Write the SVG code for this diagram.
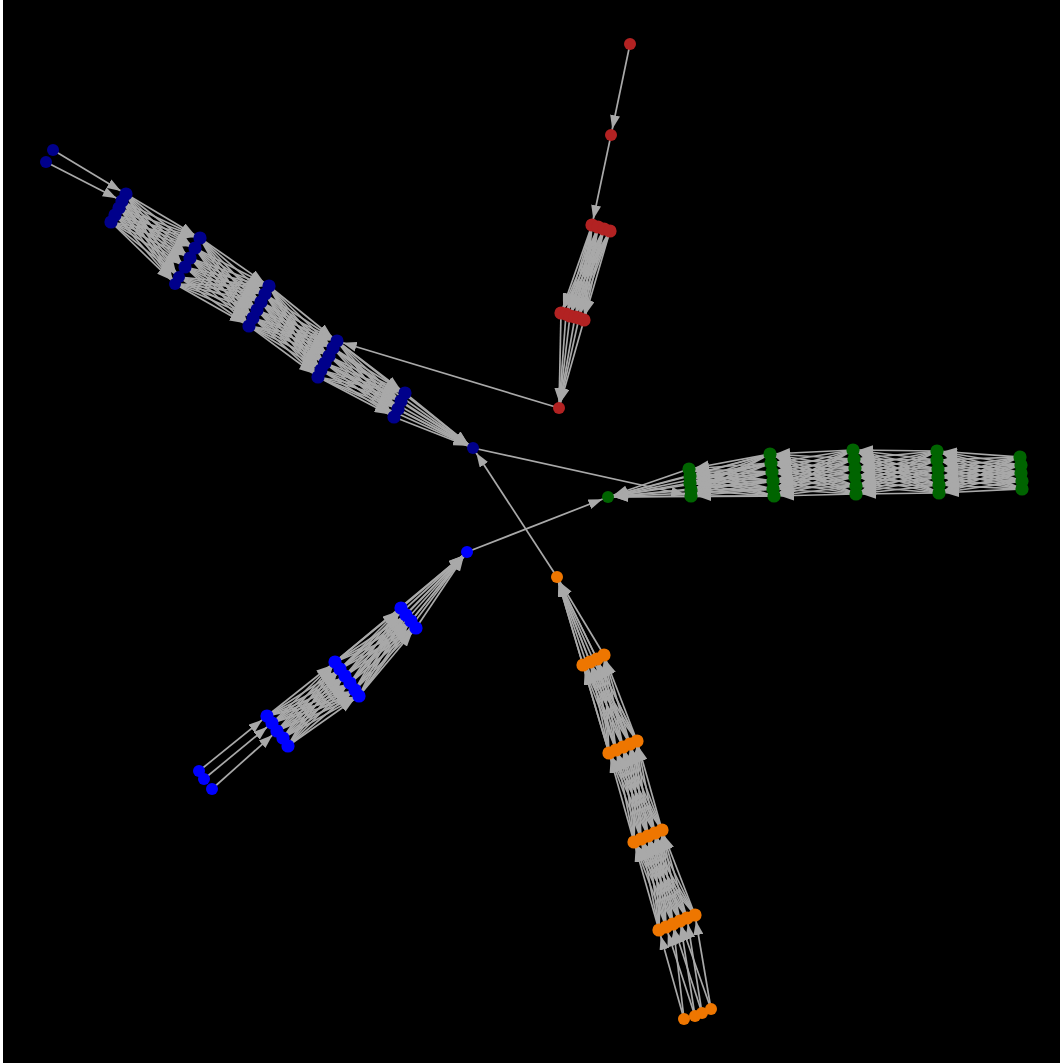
<svg xmlns="http://www.w3.org/2000/svg" width="1060" height="1063" viewBox="0 0 1060 1063">
<style>
#edges path{fill:none;stroke:#a9a9a9;stroke-width:1.7;marker-end:url(#ah)}
.r{fill:#b22222}.n{fill:#00008b}.g{fill:#006400}.b{fill:#0000ff}.o{fill:#ee7600}
.c circle{r:6.6px}
</style>
<defs>
<marker id="ah" markerUnits="userSpaceOnUse" markerWidth="14" markerHeight="10" viewBox="0 0 14 10" refX="20" refY="5" orient="auto"><path d="M0 0L14 5 0 10z" fill="#a9a9a9"/></marker>
</defs>
<rect x="0" y="0" width="1060" height="1063" fill="#ffffff"/>
<rect x="3" y="0" width="1057" height="1063" fill="#000000"/>
<g id="edges">
<path d="M630 44 611 135"/>
<path d="M611 135 592 225"/>
<path d="M592 225 561 313"/><path d="M592 225 566 314"/><path d="M592 225 570 316"/><path d="M592 225 575 317"/><path d="M592 225 579 318"/><path d="M592 225 584 320"/>
<path d="M598 227 561 313"/><path d="M598 227 566 314"/><path d="M598 227 570 316"/><path d="M598 227 575 317"/><path d="M598 227 579 318"/><path d="M598 227 584 320"/>
<path d="M604 229 561 313"/><path d="M604 229 566 314"/><path d="M604 229 570 316"/><path d="M604 229 575 317"/><path d="M604 229 579 318"/><path d="M604 229 584 320"/>
<path d="M610 231 561 313"/><path d="M610 231 566 314"/><path d="M610 231 570 316"/><path d="M610 231 575 317"/><path d="M610 231 579 318"/><path d="M610 231 584 320"/>
<path d="M561 313 559 408"/><path d="M566 314 559 408"/><path d="M570 316 559 408"/><path d="M575 317 559 408"/><path d="M579 318 559 408"/><path d="M584 320 559 408"/>
<path d="M53 150 126 194"/>
<path d="M46 162 122 201"/>
<path d="M126 194 200 238"/><path d="M126 194 195 248"/><path d="M126 194 190 258"/><path d="M126 194 185 267"/><path d="M126 194 179 277"/><path d="M126 194 175 284"/>
<path d="M122 201 200 238"/><path d="M122 201 195 248"/><path d="M122 201 190 258"/><path d="M122 201 185 267"/><path d="M122 201 179 277"/><path d="M122 201 175 284"/>
<path d="M119 208 200 238"/><path d="M119 208 195 248"/><path d="M119 208 190 258"/><path d="M119 208 185 267"/><path d="M119 208 179 277"/><path d="M119 208 175 284"/>
<path d="M115 215 200 238"/><path d="M115 215 195 248"/><path d="M115 215 190 258"/><path d="M115 215 185 267"/><path d="M115 215 179 277"/><path d="M115 215 175 284"/>
<path d="M111 222 200 238"/><path d="M111 222 195 248"/><path d="M111 222 190 258"/><path d="M111 222 185 267"/><path d="M111 222 179 277"/><path d="M111 222 175 284"/>
<path d="M200 238 269 286"/><path d="M200 238 265 294"/><path d="M200 238 261 302"/><path d="M200 238 257 310"/><path d="M200 238 253 318"/><path d="M200 238 249 326"/>
<path d="M195 248 269 286"/><path d="M195 248 265 294"/><path d="M195 248 261 302"/><path d="M195 248 257 310"/><path d="M195 248 253 318"/><path d="M195 248 249 326"/>
<path d="M190 258 269 286"/><path d="M190 258 265 294"/><path d="M190 258 261 302"/><path d="M190 258 257 310"/><path d="M190 258 253 318"/><path d="M190 258 249 326"/>
<path d="M185 267 269 286"/><path d="M185 267 265 294"/><path d="M185 267 261 302"/><path d="M185 267 257 310"/><path d="M185 267 253 318"/><path d="M185 267 249 326"/>
<path d="M179 277 269 286"/><path d="M179 277 265 294"/><path d="M179 277 261 302"/><path d="M179 277 257 310"/><path d="M179 277 253 318"/><path d="M179 277 249 326"/>
<path d="M175 284 269 286"/><path d="M175 284 265 294"/><path d="M175 284 261 302"/><path d="M175 284 257 310"/><path d="M175 284 253 318"/><path d="M175 284 249 326"/>
<path d="M269 286 337 341"/><path d="M269 286 333 348"/><path d="M269 286 329 356"/><path d="M269 286 325 363"/><path d="M269 286 321 370"/><path d="M269 286 318 377"/>
<path d="M265 294 337 341"/><path d="M265 294 333 348"/><path d="M265 294 329 356"/><path d="M265 294 325 363"/><path d="M265 294 321 370"/><path d="M265 294 318 377"/>
<path d="M261 302 337 341"/><path d="M261 302 333 348"/><path d="M261 302 329 356"/><path d="M261 302 325 363"/><path d="M261 302 321 370"/><path d="M261 302 318 377"/>
<path d="M257 310 337 341"/><path d="M257 310 333 348"/><path d="M257 310 329 356"/><path d="M257 310 325 363"/><path d="M257 310 321 370"/><path d="M257 310 318 377"/>
<path d="M253 318 337 341"/><path d="M253 318 333 348"/><path d="M253 318 329 356"/><path d="M253 318 325 363"/><path d="M253 318 321 370"/><path d="M253 318 318 377"/>
<path d="M249 326 337 341"/><path d="M249 326 333 348"/><path d="M249 326 329 356"/><path d="M249 326 325 363"/><path d="M249 326 321 370"/><path d="M249 326 318 377"/>
<path d="M337 341 405 393"/><path d="M337 341 401 401"/><path d="M337 341 398 409"/><path d="M337 341 394 417"/>
<path d="M333 348 405 393"/><path d="M333 348 401 401"/><path d="M333 348 398 409"/><path d="M333 348 394 417"/>
<path d="M329 356 405 393"/><path d="M329 356 401 401"/><path d="M329 356 398 409"/><path d="M329 356 394 417"/>
<path d="M325 363 405 393"/><path d="M325 363 401 401"/><path d="M325 363 398 409"/><path d="M325 363 394 417"/>
<path d="M321 370 405 393"/><path d="M321 370 401 401"/><path d="M321 370 398 409"/><path d="M321 370 394 417"/>
<path d="M318 377 405 393"/><path d="M318 377 401 401"/><path d="M318 377 398 409"/><path d="M318 377 394 417"/>
<path d="M405 393 473 448"/><path d="M401 401 473 448"/><path d="M398 409 473 448"/><path d="M394 417 473 448"/>
<path d="M337 341 473 448"/><path d="M333 348 473 448"/><path d="M329 356 473 448"/><path d="M325 363 473 448"/><path d="M321 370 473 448"/><path d="M318 377 473 448"/>
<path d="M1020 457 937 451"/><path d="M1020 457 937 460"/><path d="M1020 457 938 469"/><path d="M1020 457 938 477"/><path d="M1020 457 939 485"/><path d="M1020 457 939 493"/>
<path d="M1021 465 937 451"/><path d="M1021 465 937 460"/><path d="M1021 465 938 469"/><path d="M1021 465 938 477"/><path d="M1021 465 939 485"/><path d="M1021 465 939 493"/>
<path d="M1021 473 937 451"/><path d="M1021 473 937 460"/><path d="M1021 473 938 469"/><path d="M1021 473 938 477"/><path d="M1021 473 939 485"/><path d="M1021 473 939 493"/>
<path d="M1022 481 937 451"/><path d="M1022 481 937 460"/><path d="M1022 481 938 469"/><path d="M1022 481 938 477"/><path d="M1022 481 939 485"/><path d="M1022 481 939 493"/>
<path d="M1022 489 937 451"/><path d="M1022 489 937 460"/><path d="M1022 489 938 469"/><path d="M1022 489 938 477"/><path d="M1022 489 939 485"/><path d="M1022 489 939 493"/>
<path d="M937 451 853 450"/><path d="M937 451 854 459"/><path d="M937 451 855 468"/><path d="M937 451 855 477"/><path d="M937 451 856 486"/><path d="M937 451 856 494"/>
<path d="M937 460 853 450"/><path d="M937 460 854 459"/><path d="M937 460 855 468"/><path d="M937 460 855 477"/><path d="M937 460 856 486"/><path d="M937 460 856 494"/>
<path d="M938 469 853 450"/><path d="M938 469 854 459"/><path d="M938 469 855 468"/><path d="M938 469 855 477"/><path d="M938 469 856 486"/><path d="M938 469 856 494"/>
<path d="M938 477 853 450"/><path d="M938 477 854 459"/><path d="M938 477 855 468"/><path d="M938 477 855 477"/><path d="M938 477 856 486"/><path d="M938 477 856 494"/>
<path d="M939 485 853 450"/><path d="M939 485 854 459"/><path d="M939 485 855 468"/><path d="M939 485 855 477"/><path d="M939 485 856 486"/><path d="M939 485 856 494"/>
<path d="M939 493 853 450"/><path d="M939 493 854 459"/><path d="M939 493 855 468"/><path d="M939 493 855 477"/><path d="M939 493 856 486"/><path d="M939 493 856 494"/>
<path d="M853 450 770 454"/><path d="M853 450 771 463"/><path d="M853 450 772 472"/><path d="M853 450 773 481"/><path d="M853 450 773 489"/><path d="M853 450 774 496"/>
<path d="M854 459 770 454"/><path d="M854 459 771 463"/><path d="M854 459 772 472"/><path d="M854 459 773 481"/><path d="M854 459 773 489"/><path d="M854 459 774 496"/>
<path d="M855 468 770 454"/><path d="M855 468 771 463"/><path d="M855 468 772 472"/><path d="M855 468 773 481"/><path d="M855 468 773 489"/><path d="M855 468 774 496"/>
<path d="M855 477 770 454"/><path d="M855 477 771 463"/><path d="M855 477 772 472"/><path d="M855 477 773 481"/><path d="M855 477 773 489"/><path d="M855 477 774 496"/>
<path d="M856 486 770 454"/><path d="M856 486 771 463"/><path d="M856 486 772 472"/><path d="M856 486 773 481"/><path d="M856 486 773 489"/><path d="M856 486 774 496"/>
<path d="M856 494 770 454"/><path d="M856 494 771 463"/><path d="M856 494 772 472"/><path d="M856 494 773 481"/><path d="M856 494 773 489"/><path d="M856 494 774 496"/>
<path d="M770 454 689 469"/><path d="M770 454 690 476"/><path d="M770 454 690 483"/><path d="M770 454 691 490"/><path d="M770 454 691 496"/>
<path d="M771 463 689 469"/><path d="M771 463 690 476"/><path d="M771 463 690 483"/><path d="M771 463 691 490"/><path d="M771 463 691 496"/>
<path d="M772 472 689 469"/><path d="M772 472 690 476"/><path d="M772 472 690 483"/><path d="M772 472 691 490"/><path d="M772 472 691 496"/>
<path d="M773 481 689 469"/><path d="M773 481 690 476"/><path d="M773 481 690 483"/><path d="M773 481 691 490"/><path d="M773 481 691 496"/>
<path d="M773 489 689 469"/><path d="M773 489 690 476"/><path d="M773 489 690 483"/><path d="M773 489 691 490"/><path d="M773 489 691 496"/>
<path d="M774 496 689 469"/><path d="M774 496 690 476"/><path d="M774 496 690 483"/><path d="M774 496 691 490"/><path d="M774 496 691 496"/>
<path d="M689 469 608 497"/><path d="M690 476 608 497"/><path d="M690 483 608 497"/><path d="M691 490 608 497"/><path d="M691 496 608 497"/>
<path d="M770 454 608 497"/><path d="M771 463 608 497"/><path d="M772 472 608 497"/><path d="M773 481 608 497"/><path d="M773 489 608 497"/><path d="M774 496 608 497"/>
<path d="M199 771 267 716"/><path d="M204 779 272 723"/><path d="M212 789 277 731"/>
<path d="M267 716 335 662"/><path d="M267 716 340 669"/><path d="M267 716 345 676"/><path d="M267 716 350 683"/><path d="M267 716 355 690"/><path d="M267 716 359 696"/>
<path d="M272 723 335 662"/><path d="M272 723 340 669"/><path d="M272 723 345 676"/><path d="M272 723 350 683"/><path d="M272 723 355 690"/><path d="M272 723 359 696"/>
<path d="M277 731 335 662"/><path d="M277 731 340 669"/><path d="M277 731 345 676"/><path d="M277 731 350 683"/><path d="M277 731 355 690"/><path d="M277 731 359 696"/>
<path d="M283 738 335 662"/><path d="M283 738 340 669"/><path d="M283 738 345 676"/><path d="M283 738 350 683"/><path d="M283 738 355 690"/><path d="M283 738 359 696"/>
<path d="M288 746 335 662"/><path d="M288 746 340 669"/><path d="M288 746 345 676"/><path d="M288 746 350 683"/><path d="M288 746 355 690"/><path d="M288 746 359 696"/>
<path d="M335 662 401 608"/><path d="M335 662 406 615"/><path d="M335 662 411 621"/><path d="M335 662 416 628"/>
<path d="M340 669 401 608"/><path d="M340 669 406 615"/><path d="M340 669 411 621"/><path d="M340 669 416 628"/>
<path d="M345 676 401 608"/><path d="M345 676 406 615"/><path d="M345 676 411 621"/><path d="M345 676 416 628"/>
<path d="M350 683 401 608"/><path d="M350 683 406 615"/><path d="M350 683 411 621"/><path d="M350 683 416 628"/>
<path d="M355 690 401 608"/><path d="M355 690 406 615"/><path d="M355 690 411 621"/><path d="M355 690 416 628"/>
<path d="M359 696 401 608"/><path d="M359 696 406 615"/><path d="M359 696 411 621"/><path d="M359 696 416 628"/>
<path d="M401 608 467 552"/><path d="M406 615 467 552"/><path d="M411 621 467 552"/><path d="M416 628 467 552"/>
<path d="M335 662 467 552"/><path d="M340 669 467 552"/><path d="M345 676 467 552"/><path d="M350 683 467 552"/><path d="M355 690 467 552"/><path d="M359 696 467 552"/>
<path d="M684 1019 659 930"/><path d="M684 1019 673 924"/><path d="M695 1016 666 927"/><path d="M695 1016 680 921"/>
<path d="M702 1013 673 924"/><path d="M702 1013 687 918"/><path d="M711 1009 680 921"/><path d="M711 1009 695 915"/>
<path d="M659 930 634 842"/><path d="M659 930 641 839"/><path d="M659 930 648 836"/><path d="M659 930 655 833"/><path d="M659 930 662 830"/>
<path d="M666 927 634 842"/><path d="M666 927 641 839"/><path d="M666 927 648 836"/><path d="M666 927 655 833"/><path d="M666 927 662 830"/>
<path d="M673 924 634 842"/><path d="M673 924 641 839"/><path d="M673 924 648 836"/><path d="M673 924 655 833"/><path d="M673 924 662 830"/>
<path d="M680 921 634 842"/><path d="M680 921 641 839"/><path d="M680 921 648 836"/><path d="M680 921 655 833"/><path d="M680 921 662 830"/>
<path d="M687 918 634 842"/><path d="M687 918 641 839"/><path d="M687 918 648 836"/><path d="M687 918 655 833"/><path d="M687 918 662 830"/>
<path d="M695 915 634 842"/><path d="M695 915 641 839"/><path d="M695 915 648 836"/><path d="M695 915 655 833"/><path d="M695 915 662 830"/>
<path d="M634 842 609 753"/><path d="M634 842 616 750"/><path d="M634 842 623 747"/><path d="M634 842 630 744"/><path d="M634 842 637 741"/>
<path d="M641 839 609 753"/><path d="M641 839 616 750"/><path d="M641 839 623 747"/><path d="M641 839 630 744"/><path d="M641 839 637 741"/>
<path d="M648 836 609 753"/><path d="M648 836 616 750"/><path d="M648 836 623 747"/><path d="M648 836 630 744"/><path d="M648 836 637 741"/>
<path d="M655 833 609 753"/><path d="M655 833 616 750"/><path d="M655 833 623 747"/><path d="M655 833 630 744"/><path d="M655 833 637 741"/>
<path d="M662 830 609 753"/><path d="M662 830 616 750"/><path d="M662 830 623 747"/><path d="M662 830 630 744"/><path d="M662 830 637 741"/>
<path d="M609 753 583 665"/><path d="M609 753 590 662"/><path d="M609 753 597 659"/><path d="M609 753 604 655"/>
<path d="M616 750 583 665"/><path d="M616 750 590 662"/><path d="M616 750 597 659"/><path d="M616 750 604 655"/>
<path d="M623 747 583 665"/><path d="M623 747 590 662"/><path d="M623 747 597 659"/><path d="M623 747 604 655"/>
<path d="M630 744 583 665"/><path d="M630 744 590 662"/><path d="M630 744 597 659"/><path d="M630 744 604 655"/>
<path d="M637 741 583 665"/><path d="M637 741 590 662"/><path d="M637 741 597 659"/><path d="M637 741 604 655"/>
<path d="M583 665 557 577"/><path d="M590 662 557 577"/><path d="M597 659 557 577"/><path d="M604 655 557 577"/>
<path d="M609 753 557 577"/><path d="M616 750 557 577"/><path d="M623 747 557 577"/><path d="M630 744 557 577"/><path d="M637 741 557 577"/>
<path d="M557 577 473 448"/>
<path d="M473 448 691 496"/>
<path d="M467 552 608 497"/>
<path d="M559 408 337 341"/>
</g>
<g id="red-0" class="r"><circle cx="630" cy="44" r="6"/></g>
<g id="red-1" class="r"><circle cx="611" cy="135" r="6"/></g>
<g id="red-2a" class="r c"><circle cx="592" cy="225" r="6"/></g>
<g id="red-2b" class="r c"><circle cx="598" cy="227" r="6"/></g>
<g id="red-2c" class="r c"><circle cx="604" cy="229" r="6"/></g>
<g id="red-2d" class="r c"><circle cx="610" cy="231" r="6"/></g>
<g id="red-3a" class="r c"><circle cx="561" cy="313" r="6"/></g>
<g id="red-3b" class="r c"><circle cx="566" cy="314" r="6"/></g>
<g id="red-3c" class="r c"><circle cx="570" cy="316" r="6"/></g>
<g id="red-3d" class="r c"><circle cx="575" cy="317" r="6"/></g>
<g id="red-3e" class="r c"><circle cx="579" cy="318" r="6"/></g>
<g id="red-3f" class="r c"><circle cx="584" cy="320" r="6"/></g>
<g id="red-hub" class="r"><circle cx="559" cy="408" r="6"/></g>
<g id="navy-0a" class="n"><circle cx="53" cy="150" r="6"/></g>
<g id="navy-0b" class="n"><circle cx="46" cy="162" r="6"/></g>
<g id="navy-1a" class="n c"><circle cx="126" cy="194" r="6"/></g>
<g id="navy-1b" class="n c"><circle cx="122" cy="201" r="6"/></g>
<g id="navy-1c" class="n c"><circle cx="119" cy="208" r="6"/></g>
<g id="navy-1d" class="n c"><circle cx="115" cy="215" r="6"/></g>
<g id="navy-1e" class="n c"><circle cx="111" cy="222" r="6"/></g>
<g id="navy-2a" class="n c"><circle cx="200" cy="238" r="6"/></g>
<g id="navy-2b" class="n c"><circle cx="195" cy="248" r="6"/></g>
<g id="navy-2c" class="n c"><circle cx="190" cy="258" r="6"/></g>
<g id="navy-2d" class="n c"><circle cx="185" cy="267" r="6"/></g>
<g id="navy-2e" class="n"><circle cx="179" cy="277" r="6"/></g>
<g id="navy-2f" class="n"><circle cx="175" cy="284" r="6"/></g>
<g id="navy-3a" class="n c"><circle cx="269" cy="286" r="6"/></g>
<g id="navy-3b" class="n c"><circle cx="265" cy="294" r="6"/></g>
<g id="navy-3c" class="n c"><circle cx="261" cy="302" r="6"/></g>
<g id="navy-3d" class="n c"><circle cx="257" cy="310" r="6"/></g>
<g id="navy-3e" class="n c"><circle cx="253" cy="318" r="6"/></g>
<g id="navy-3f" class="n c"><circle cx="249" cy="326" r="6"/></g>
<g id="navy-4a" class="n c"><circle cx="337" cy="341" r="6"/></g>
<g id="navy-4b" class="n c"><circle cx="333" cy="348" r="6"/></g>
<g id="navy-4c" class="n c"><circle cx="329" cy="356" r="6"/></g>
<g id="navy-4d" class="n c"><circle cx="325" cy="363" r="6"/></g>
<g id="navy-4e" class="n c"><circle cx="321" cy="370" r="6"/></g>
<g id="navy-4f" class="n c"><circle cx="318" cy="377" r="6"/></g>
<g id="navy-5a" class="n c"><circle cx="405" cy="393" r="6"/></g>
<g id="navy-5b" class="n c"><circle cx="401" cy="401" r="6"/></g>
<g id="navy-5c" class="n c"><circle cx="398" cy="409" r="6"/></g>
<g id="navy-5d" class="n c"><circle cx="394" cy="417" r="6"/></g>
<g id="navy-hub" class="n"><circle cx="473" cy="448" r="6"/></g>
<g id="green-1a" class="g c"><circle cx="689" cy="469" r="6"/></g>
<g id="green-1b" class="g c"><circle cx="690" cy="476" r="6"/></g>
<g id="green-1c" class="g c"><circle cx="690" cy="483" r="6"/></g>
<g id="green-1d" class="g c"><circle cx="691" cy="490" r="6"/></g>
<g id="green-1e" class="g c"><circle cx="691" cy="496" r="6"/></g>
<g id="green-2a" class="g c"><circle cx="770" cy="454" r="6"/></g>
<g id="green-2b" class="g c"><circle cx="771" cy="463" r="6"/></g>
<g id="green-2c" class="g c"><circle cx="772" cy="472" r="6"/></g>
<g id="green-2d" class="g c"><circle cx="773" cy="481" r="6"/></g>
<g id="green-2e" class="g c"><circle cx="773" cy="489" r="6"/></g>
<g id="green-2f" class="g c"><circle cx="774" cy="496" r="6"/></g>
<g id="green-3a" class="g c"><circle cx="853" cy="450" r="6"/></g>
<g id="green-3b" class="g c"><circle cx="854" cy="459" r="6"/></g>
<g id="green-3c" class="g c"><circle cx="855" cy="468" r="6"/></g>
<g id="green-3d" class="g c"><circle cx="855" cy="477" r="6"/></g>
<g id="green-3e" class="g c"><circle cx="856" cy="486" r="6"/></g>
<g id="green-3f" class="g c"><circle cx="856" cy="494" r="6"/></g>
<g id="green-4a" class="g c"><circle cx="937" cy="451" r="6"/></g>
<g id="green-4b" class="g c"><circle cx="937" cy="460" r="6"/></g>
<g id="green-4c" class="g c"><circle cx="938" cy="469" r="6"/></g>
<g id="green-4d" class="g c"><circle cx="938" cy="477" r="6"/></g>
<g id="green-4e" class="g c"><circle cx="939" cy="485" r="6"/></g>
<g id="green-4f" class="g c"><circle cx="939" cy="493" r="6"/></g>
<g id="green-5a" class="g c"><circle cx="1020" cy="457" r="6"/></g>
<g id="green-5b" class="g c"><circle cx="1021" cy="465" r="6"/></g>
<g id="green-5c" class="g c"><circle cx="1021" cy="473" r="6"/></g>
<g id="green-5d" class="g c"><circle cx="1022" cy="481" r="6"/></g>
<g id="green-5e" class="g c"><circle cx="1022" cy="489" r="6"/></g>
<g id="green-hub" class="g"><circle cx="608" cy="497" r="6"/></g>
<g id="blue-hub" class="b"><circle cx="467" cy="552" r="6"/></g>
<g id="blue-1a" class="b c"><circle cx="401" cy="608" r="6"/></g>
<g id="blue-1b" class="b c"><circle cx="406" cy="615" r="6"/></g>
<g id="blue-1c" class="b c"><circle cx="411" cy="621" r="6"/></g>
<g id="blue-1d" class="b c"><circle cx="416" cy="628" r="6"/></g>
<g id="blue-2a" class="b c"><circle cx="335" cy="662" r="6"/></g>
<g id="blue-2b" class="b c"><circle cx="340" cy="669" r="6"/></g>
<g id="blue-2c" class="b c"><circle cx="345" cy="676" r="6"/></g>
<g id="blue-2d" class="b c"><circle cx="350" cy="683" r="6"/></g>
<g id="blue-2e" class="b c"><circle cx="355" cy="690" r="6"/></g>
<g id="blue-2f" class="b c"><circle cx="359" cy="696" r="6"/></g>
<g id="blue-3a" class="b c"><circle cx="267" cy="716" r="6"/></g>
<g id="blue-3b" class="b c"><circle cx="272" cy="723" r="6"/></g>
<g id="blue-3c" class="b c"><circle cx="277" cy="731" r="6"/></g>
<g id="blue-3d" class="b c"><circle cx="283" cy="738" r="6"/></g>
<g id="blue-3e" class="b c"><circle cx="288" cy="746" r="6"/></g>
<g id="blue-4a" class="b"><circle cx="199" cy="771" r="6"/></g>
<g id="blue-4b" class="b"><circle cx="204" cy="779" r="6"/></g>
<g id="blue-4c" class="b"><circle cx="212" cy="789" r="6"/></g>
<g id="orange-hub" class="o"><circle cx="557" cy="577" r="6"/></g>
<g id="orange-1a" class="o c"><circle cx="583" cy="665" r="6"/></g>
<g id="orange-1b" class="o c"><circle cx="590" cy="662" r="6"/></g>
<g id="orange-1c" class="o c"><circle cx="597" cy="659" r="6"/></g>
<g id="orange-1d" class="o c"><circle cx="604" cy="655" r="6"/></g>
<g id="orange-2a" class="o c"><circle cx="609" cy="753" r="6"/></g>
<g id="orange-2b" class="o c"><circle cx="616" cy="750" r="6"/></g>
<g id="orange-2c" class="o c"><circle cx="623" cy="747" r="6"/></g>
<g id="orange-2d" class="o c"><circle cx="630" cy="744" r="6"/></g>
<g id="orange-2e" class="o c"><circle cx="637" cy="741" r="6"/></g>
<g id="orange-3a" class="o c"><circle cx="634" cy="842" r="6"/></g>
<g id="orange-3b" class="o c"><circle cx="641" cy="839" r="6"/></g>
<g id="orange-3c" class="o c"><circle cx="648" cy="836" r="6"/></g>
<g id="orange-3d" class="o c"><circle cx="655" cy="833" r="6"/></g>
<g id="orange-3e" class="o c"><circle cx="662" cy="830" r="6"/></g>
<g id="orange-4a" class="o c"><circle cx="659" cy="930" r="6"/></g>
<g id="orange-4b" class="o c"><circle cx="666" cy="927" r="6"/></g>
<g id="orange-4c" class="o c"><circle cx="673" cy="924" r="6"/></g>
<g id="orange-4d" class="o c"><circle cx="680" cy="921" r="6"/></g>
<g id="orange-4e" class="o c"><circle cx="687" cy="918" r="6"/></g>
<g id="orange-4f" class="o c"><circle cx="695" cy="915" r="6"/></g>
<g id="orange-5a" class="o"><circle cx="684" cy="1019" r="6"/></g>
<g id="orange-5b" class="o"><circle cx="695" cy="1016" r="6"/></g>
<g id="orange-5c" class="o"><circle cx="702" cy="1013" r="6"/></g>
<g id="orange-5d" class="o"><circle cx="711" cy="1009" r="6"/></g>
</svg>
